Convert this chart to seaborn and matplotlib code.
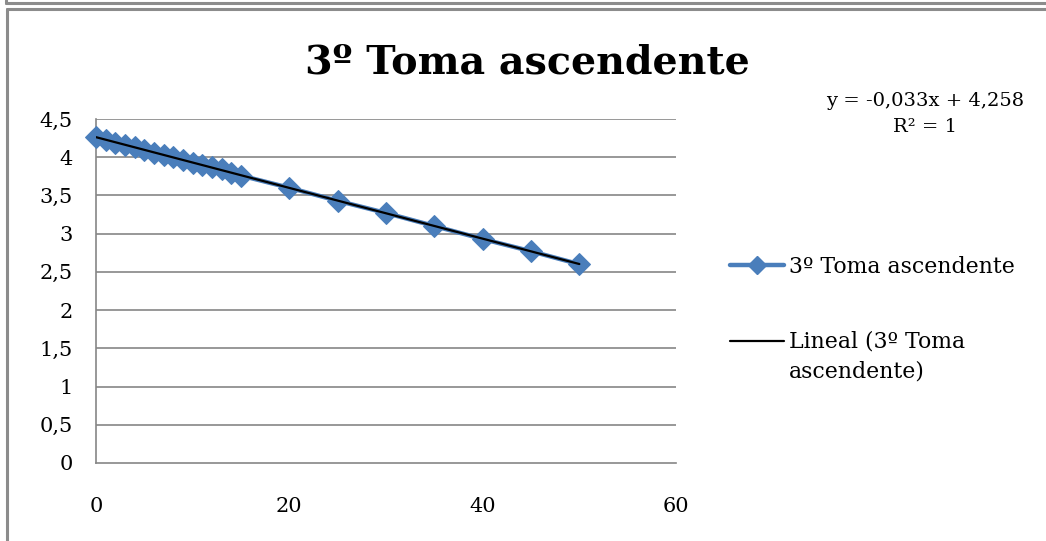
import matplotlib
matplotlib.use("Agg")
import matplotlib.pyplot as plt
import seaborn as sns
import pandas as pd
import numpy as np
from matplotlib.lines import Line2D
from matplotlib.legend_handler import HandlerLine2D

# ---- data ----
x_vals = [0, 1, 2, 3, 4, 5, 6, 7, 8, 9, 10, 11, 12, 13, 14, 15, 20, 25, 30, 35, 40, 45, 50]
y_vals = [4.26, 4.22, 4.19, 4.16, 4.13, 4.10, 4.06, 4.03, 4.00, 3.97, 3.93, 3.90,
          3.87, 3.84, 3.80, 3.76, 3.60, 3.43, 3.27, 3.10, 2.93, 2.77, 2.60]
series_name = "3º Toma ascendente"
trend_name = "Lineal (3º Toma\nascendente)"
title = "3º Toma ascendente"
eq_lines = ["y = -0,033x + 4,258", "R² = 1"]
y_ticks = [0, 0.5, 1, 1.5, 2, 2.5, 3, 3.5, 4, 4.5]
y_labels = ["0", "0,5", "1", "1,5", "2", "2,5", "3", "3,5", "4", "4,5"]
x_ticks = [0, 20, 40, 60]
x_labels = ["0", "20", "40", "60"]

df = pd.DataFrame({"x": x_vals, "y": y_vals})

sns.set_theme(style="white")
plt.rcParams['font.family'] = ['DejaVu Serif']
plt.rcParams['text.color'] = 'black'

W, H = 1046, 541
fig = plt.figure(figsize=(W / 100, H / 100), dpi=100)
ax = fig.add_axes([96 / W, 1 - 463 / H, (676 - 96) / W, (463 - 119) / H])

blue = "#4a7ebb"
grid_c = "#868686"

sns.lineplot(data=df, x="x", y="y", ax=ax, color=blue, lw=3.2, marker="D",
             markersize=11, markeredgecolor=blue, clip_on=False, zorder=3)
sns.regplot(data=df, x="x", y="y", ax=ax, scatter=False, ci=None,
            line_kws=dict(color="black", lw=1.6, zorder=4))

ax.set_xlim(0, 60)
ax.set_ylim(0, 4.5)
ax.set_yticks(y_ticks)
ax.set_yticklabels(y_labels)
ax.set_xticks(x_ticks)
ax.set_xticklabels(x_labels)
ax.set_xlabel("")
ax.set_ylabel("")
for y in y_ticks[1:]:
    ax.axhline(y, color=grid_c, lw=1.2, zorder=1)
for s in ["top", "right"]:
    ax.spines[s].set_visible(False)
for s in ["left", "bottom"]:
    ax.spines[s].set_color(grid_c)
    ax.spines[s].set_linewidth(1.2)
ax.tick_params(axis="both", which="major", direction="out", length=5.8, width=1.2,
               color=grid_c, labelsize=15, labelcolor="black")
ax.tick_params(axis="y", pad=11)
ax.tick_params(axis="x", pad=19)

fig.text(527 / W, 1 - 62 / H, title, ha="center", va="center", fontsize=28.5,
         fontweight="bold", color="black")
fig.text(925 / W, 1 - 101 / H, eq_lines[0], ha="center", va="center", fontsize=14,
         color="black")
fig.text(925 / W, 1 - 127 / H, eq_lines[1], ha="center", va="center", fontsize=14,
         color="black")


class HandlerShift(HandlerLine2D):
    def __init__(self, dy=0.0, **kw):
        super().__init__(**kw)
        self.dy = dy

    def create_artists(self, legend, orig_handle, xdescent, ydescent, width,
                       height, fontsize, trans):
        arts = super().create_artists(legend, orig_handle, xdescent, ydescent,
                                      width, height, fontsize, trans)
        for a in arts:
            a.set_ydata(np.asarray(a.get_ydata()) + self.dy)
        return arts


h1 = Line2D([], [], color=blue, lw=3.2, marker="D", markersize=9)
h2 = Line2D([], [], color="black", lw=1.6)
leg = fig.legend([h1, h2], [series_name, trend_name], loc="upper left",
                 bbox_to_anchor=(730 / W, 1 - 256 / H), frameon=False, fontsize=15.8,
                 handlelength=2.45, handletextpad=0.22, labelspacing=2.4, borderpad=0,
                 borderaxespad=0, handler_map={h2: HandlerShift(dy=12)})
for t in leg.get_texts():
    t.set_linespacing(1.45)
    t.set_color("black")

# outer frames
fc = "#8c8c8c"
fig.add_artist(Line2D([6 / W, 1], [1 - 3 / H, 1 - 3 / H], color=fc, lw=2.2))
fig.add_artist(Line2D([6 / W, 6 / W], [1, 1 - 3 / H], color=fc, lw=2.2))
fig.add_artist(Line2D([7 / W, 1], [1 - 9 / H, 1 - 9 / H], color=fc, lw=2.2))
fig.add_artist(Line2D([7 / W, 7 / W], [1 - 9 / H, 0], color=fc, lw=2.2))

fig.savefig("out.png", dpi=100)
